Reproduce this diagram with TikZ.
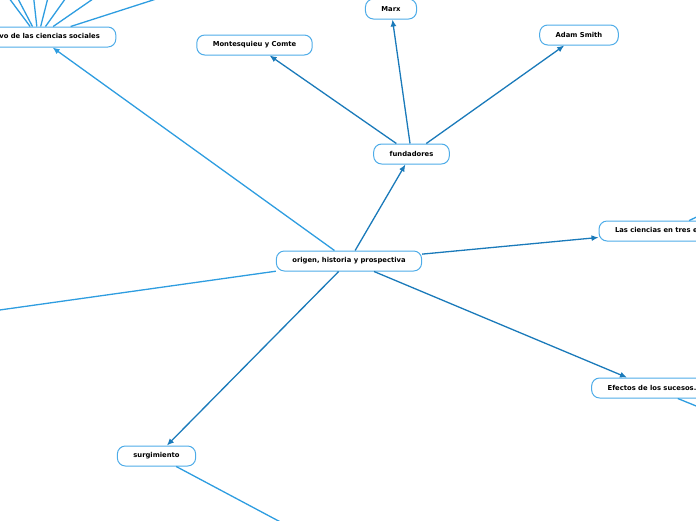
\documentclass[tikz,border=0pt]{standalone}
\usepackage{fontspec}
\setmainfont{DejaVu Sans}
\usetikzlibrary{arrows.meta}

\definecolor{topicline}{RGB}{26,122,186}
\definecolor{subline}{RGB}{46,157,224}
\definecolor{boxline}{RGB}{78,172,232}

\tikzset{
    topic/.style={draw=boxline, line width=1pt, fill=white, rounded corners=8pt,
        minimum height=20pt, inner xsep=16pt, inner ysep=0pt,
        font=\fontsize{6.8}{7.5}\selectfont\bfseries},
    link/.style={topicline, line width=1.3pt, -{Latex[length=7pt,width=6pt]}},
    sublink/.style={subline, line width=1.3pt},
    subarrow/.style={sublink, -{Latex[length=7pt,width=6pt]}}
}

\begin{document}
\begin{tikzpicture}[x=1pt, y=-1pt]
    % Frame of the visible part
        \useasboundingbox (0,0) rectangle (696,520);
        \clip (0,0) rectangle (696,520);

        % Central topic
        \node[topic] (origen) at (349,261) {origen, historia y prospectiva};

        % Main branches
        \node[topic] (fundadores) at (411.5,154) {fundadores};
        \node[topic] (objetivo) at (38,37) {Objetivo de las ciencias sociales};
        \node[topic] (etapas) at (667,231) {Las ciencias en tres etapas};
        \node[topic] (efectos) at (652,388) {Efectos de los sucesos.};
        \node[topic] (surgimiento) at (156.5,456) {surgimiento};

        % Founders
        \node[topic] (marx) at (391,9) {Marx};
        \node[topic] (montesquieu) at (254.5,45) {Montesquieu y Comte};
        \node[topic] (smith) at (579,35) {Adam Smith};

        % Off-screen ends
        \coordinate (left) at (-100,324);
        \coordinate (surgsub) at (350,559);
        \coordinate (efesub) at (760,432);
        \coordinate (etasub) at (760,187);
        \coordinate (obj1) at (-9,-26);
        \coordinate (obj2) at (5,-26);
        \coordinate (obj3) at (31,-26);
        \coordinate (obj4) at (54,-26);
        \coordinate (obj5) at (83,-26);
        \coordinate (obj6) at (129,-26);
        \coordinate (obj7) at (234,-26);

        % Connectors from the centre
        \draw[link] (origen) -- (fundadores);
        \draw[link] (origen) -- (etapas);
        \draw[link] (origen) -- (efectos);
        \draw[link] (origen) -- (surgimiento);
        \draw[subarrow] (origen) -- (objetivo);
        \draw[sublink] (origen) -- (left);

        % Connectors to the founders
        \draw[link] (fundadores) -- (marx);
        \draw[link] (fundadores) -- (montesquieu);
        \draw[link] (fundadores) -- (smith);

        % Lines leaving the picture
        \draw[sublink] (surgimiento) -- (surgsub);
        \draw[sublink] (efectos) -- (efesub);
        \draw[sublink] (etapas) -- (etasub);
        \foreach \n in {1,...,7}
            \draw[sublink] (objetivo) -- (obj\n);

    \end{tikzpicture}
\end{document}
